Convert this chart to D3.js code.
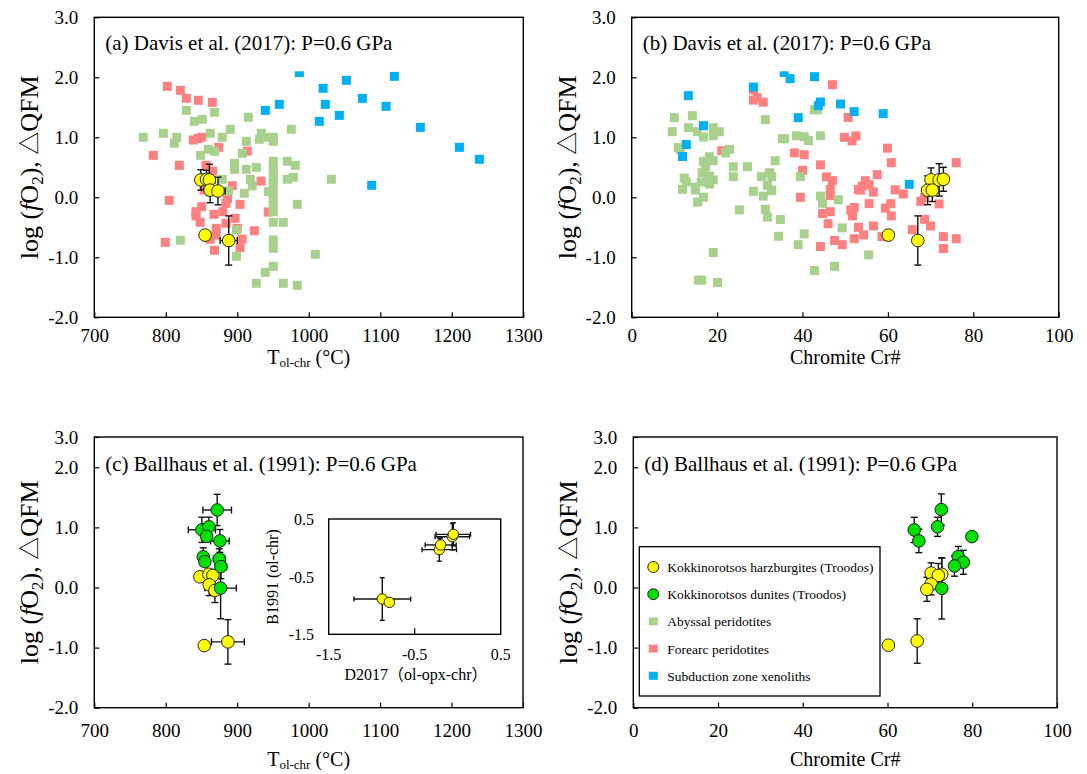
<!DOCTYPE html>
<html>
<head>
<meta charset="utf-8">
<script src="https://cdn.jsdelivr.net/npm/d3@7"></script>
<style>
  body { margin: 0; background: #fff; }
  text { font-family: "Liberation Serif", "Times New Roman", "Noto Sans CJK SC", serif; fill: #000; }
</style>
</head>
<body>
<svg id="fig" width="1087" height="774"></svg>
<script>
// ---------- axis ticks ----------
const tempTicks = [700, 800, 900, 1000, 1100, 1200, 1300];
const crTicks = [0, 20, 40, 60, 80, 100];
const fo2Ticks = [-2, -1, 0, 1, 2, 3];
const insetTicks = [-1.5, -0.5, 0.5];

// ---------- literature compilations, Davis et al. (2017) calibration ----------
// [T (°C), ΔQFM]
const abyssalT = [[768.5,1.0],[796.5,1.067],[815.2,1.0],[811.9,0.9],[828.7,1.45],[868.1,1.417],[915.4,1.333],[839.9,1.267],[851,1.3],[862.2,1.067],[879,1.0],[890.2,1.133],[912.6,0.933],[933.6,1.067],[930.8,0.967],[943.4,1.0],[950.3,1.0],[950.3,0.933],[975.5,1.133],[859.4,0.8],[868.1,0.767],[848.5,0.7],[907,0.733],[896.1,0.567],[896.1,0.467],[912.6,0.467],[926.6,0.5],[950.3,0.6],[950.3,0.5],[950.3,0.4],[950.3,0.3],[969.9,0.6],[981.1,0.533],[978.3,0.333],[969.9,0.3],[1031.5,0.3],[918.2,0.3],[879,0.3],[909.8,0.067],[921,0.19],[950.3,0.19],[943.4,0.093],[950.3,0.05],[950.3,-0.045],[950.3,-0.15],[950.3,-0.24],[950.3,-0.417],[964.3,-0.417],[983.9,-0.117],[887.7,0.105],[898.9,-0.545],[820.3,-0.717],[950.3,-0.71],[950.3,-0.85],[1009.1,-0.95],[898.9,-0.983],[950.3,-1.15],[939.2,-1.25],[926.6,-1.433],[964.3,-1.433],[983.9,-1.467]];
const forearcT = [[802.1,1.85],[820.3,1.783],[828.7,1.65],[845.5,1.617],[865,1.583],[838.5,0.955],[845,0.98],[850.2,1.0],[874,0.833],[914,0.77],[782.5,0.7],[818.9,0.533],[856.2,0.533],[865.6,0.438],[893,0.193],[933.2,0.27],[853.4,0.12],[804.9,-0.05],[850.2,-0.157],[842.2,-0.24],[842.2,-0.31],[848.1,-0.417],[867.4,-0.283],[879.6,-0.24],[884.2,-0.1],[886.3,-0.017],[903.8,-0.117],[896.8,-0.35],[884.2,-0.433],[870.6,-0.517],[900,-0.517],[923.8,-0.557],[870.2,-0.628],[861.9,-0.7],[906.6,-0.695],[903.8,-0.84],[799.3,-0.75],[868.1,-0.883],[943.4,-0.245]];
const subductionT = [[986.8,2.08],[1052.5,1.95],[1119.6,2.016],[1020,1.816],[1074.9,1.649],[1023.1,1.549],[1108,1.516],[958.8,1.549],[939.2,1.449],[1042.7,1.366],[1014.7,1.266],[1156,1.166],[1210.6,0.833],[1238.6,0.633],[1088,0.2]];

// [Cr#, ΔQFM]
const abyssalCr = [[9.98,1.327],[14.2,1.36],[9.5,1.093],[13.3,1.16],[15.4,1.093],[16.8,1.005],[19.1,1.16],[19.1,1.027],[20.5,1.093],[10.9,0.83],[11.4,0.79],[22.9,0.8],[22.0,0.74],[31.3,1.294],[35.3,0.977],[35.8,0.977],[38.6,1.027],[40.4,1.01],[41.4,0.944],[44.2,1.027],[42.8,1.46],[43.5,1.46],[33.6,0.61],[16.8,0.6],[18.2,0.677],[19.1,0.61],[17.3,0.51],[16.5,0.41],[18.2,0.355],[19.1,0.29],[23.8,0.51],[27.1,0.51],[23.8,0.344],[30.4,0.344],[32.8,0.344],[32.3,0.41],[12.3,0.32],[12.8,0.255],[11.9,0.133],[14.9,0.167],[16.3,0.255],[18.2,0.22],[31.8,0.2],[32.8,0.122],[28.5,0.1],[30.8,0.02],[39.5,0.344],[44.2,0.02],[48.4,-0.04],[14.9,0.12],[16.8,0.0],[15.4,-0.08],[32.7,0.11],[25.2,-0.21],[31.3,-0.2],[31.8,-0.33],[34.8,-0.37],[34.4,-0.65],[40.4,-0.61],[39.0,-0.79],[19.1,-0.92],[15.6,-1.38],[16.4,-1.38],[20.1,-1.42],[42.8,-1.22],[47.5,-1.15],[44.7,-0.1],[49.3,-0.51],[55.5,-0.96]];
const forearcCr = [[28.5,1.79],[29.4,1.66],[28.5,1.62],[30.8,1.585],[47.0,1.877],[50.7,1.33],[49.8,1.0],[52.5,1.023],[51.6,0.94],[38.1,0.74],[40.4,0.71],[21.1,0.776],[44.2,0.54],[40.0,0.45],[45.6,0.34],[47.0,0.277],[46.5,0.13],[39.5,0.0],[53.1,0.13],[46.5,0.027],[44.7,-0.27],[46.5,-0.24],[51.3,-0.21],[52.1,-0.17],[51.7,-0.31],[46.0,-0.44],[47.5,-0.72],[49.3,-0.79],[44.2,-0.82],[52.1,-0.69],[53.1,-0.5],[59.9,0.82],[60.8,0.577],[76.0,0.577],[57.5,0.377],[54.7,0.277],[54.0,0.188],[55.6,0.21],[53.6,0.12],[56.6,0.087],[61.7,0.125],[63.6,0.055],[55.6,-0.106],[60.7,-0.106],[59.4,-0.18],[60.8,-0.31],[67.7,-0.067],[68.6,0.0],[72.0,-0.11],[56.6,-0.478],[65.7,-0.54],[68.6,-0.367],[70.0,-0.478],[58.6,-0.655],[54.3,-0.627],[73.0,-0.655],[76.0,-0.69],[73.0,-0.855]];
const subductionCr = [[13.26,1.694],[16.8,1.194],[12.8,0.88],[11.9,0.68],[28.5,1.838],[35.7,2.08],[37.1,1.977],[42.8,2.01],[44.2,1.588],[43.7,1.527],[48.9,1.555],[39.0,1.327],[52.1,1.427],[58.9,1.394],[65.0,0.216]];

// ---------- Kokkinorotsos samples (Troodos) ----------
// [x, ΔQFM, x error, ΔQFM error]
const harzDavisT = [[849,0.29,6,0.17],[857,0.3,6,0.15],[861,0.29,8,0.26],[862,0.12,6,0.21],[873,0.105,10,0.23],[855,-0.63,0,0],[888,-0.72,12,0.41]];
const harzDavisCr = [[70.1,0.29,0,0.2],[72.0,0.29,0,0.27],[73.0,0.3,0,0.2],[69.3,0.117,0,0.24],[70.4,0.12,0,0.19],[60.1,-0.63,0,0],[67.0,-0.72,0,0.41]];
const harzBallT = [[847.8,0.178,0,0],[860.4,0.22,0,0],[866,0.2,0,0],[860.9,0.045,0,0.18],[868.8,-0.05,0,0.2],[853.9,-0.967,0,0],[887,-0.905,23,0.37]];
const harzBallCr = [[70.3,0.24,0,0.17],[72.8,0.22,0,0.27],[72.0,0.2,0,0.2],[70.3,0.057,0,0.18],[69.3,-0.03,0,0.2],[60.2,-0.96,0,0],[67.0,-0.89,0,0.37]];
const duniteBallT = [[872,1.29,20,0.26],[850.6,0.96,19,0.21],[860.4,1.01,0,0.16],[857.2,0.85,0,0],[875.8,0.775,13,0.19],[852.5,0.51,0,0.15],[854.8,0.43,0,0],[874.8,0.475,8,0.17],[877.2,0.347,8,0.2],[876.8,-0.01,22,0.51]];
const duniteBallCr = [[72.7,1.297,0,0.26],[66.3,0.958,0,0.21],[71.8,1.01,0,0.16],[67.4,0.775,0,0.195],[79.9,0.847,0,0],[76.7,0.513,0,0.17],[77.9,0.42,0,0.2],[75.8,0.358,0,0.17],[72.8,-0.014,0,0.51]];

// inset: D2017 (ol-opx-chr) vs B1991 (ol-chr), [D, B, D error, B error]
const insetHarz = [[-0.877,-0.888,0.33,0.37],[-0.795,-0.946,0,0],[-0.214,-0.032,0.2,0.2],[-0.198,0.05,0.18,0.12],[-0.063,0.193,0.2,0.23],[-0.051,0.234,0.2,0.2]];

const legendLabels = ["Kokkinorotsos harzburgites (Troodos)", "Kokkinorotsos dunites (Troodos)", "Abyssal peridotites", "Forearc peridotites", "Subduction zone xenoliths"];

// ---------- styles ----------
const SERIF = '"Liberation Serif", "Times New Roman", "Noto Sans CJK SC", serif';
const COL = { harz: "#ffff00", dunite: "#00e000", abyssal: "#a9d18e", forearc: "#ff8080", subduction: "#00b0f0" };
const SQ = 9;      // square marker side
const R = 6.3;     // circle marker radius

const svg = d3.select("#fig");
svg.append("rect").attr("width", 1087).attr("height", 774).attr("fill", "#fff");

function squares(g, data, x, y, color) {
  g.append("g").selectAll("rect").data(data).join("rect")
    .attr("x", d => x(d[0]) - SQ / 2).attr("y", d => y(d[1]) - SQ / 2)
    .attr("width", SQ).attr("height", SQ).attr("fill", color);
}

function errorBars(g, data, x, y, cap) {
  const e = g.append("g").attr("stroke", "#111").attr("stroke-width", 1.4).attr("fill", "none");
  data.forEach(d => {
    const cx = x(d[0]), cy = y(d[1]);
    if (d[2] > 0) {
      const x1 = x(d[0] - d[2]), x2 = x(d[0] + d[2]);
      e.append("line").attr("x1", x1).attr("x2", x2).attr("y1", cy).attr("y2", cy);
      e.append("line").attr("x1", x1).attr("x2", x1).attr("y1", cy - cap).attr("y2", cy + cap);
      e.append("line").attr("x1", x2).attr("x2", x2).attr("y1", cy - cap).attr("y2", cy + cap);
    }
    if (d[3] > 0) {
      const y1 = y(d[1] - d[3]), y2 = y(d[1] + d[3]);
      e.append("line").attr("x1", cx).attr("x2", cx).attr("y1", y1).attr("y2", y2);
      e.append("line").attr("x1", cx - cap).attr("x2", cx + cap).attr("y1", y1).attr("y2", y1);
      e.append("line").attr("x1", cx - cap).attr("x2", cx + cap).attr("y1", y2).attr("y2", y2);
    }
  });
}

function circles(g, data, x, y, color, r) {
  g.append("g").selectAll("circle").data(data).join("circle")
    .attr("cx", d => x(d[0])).attr("cy", d => y(d[1])).attr("r", r)
    .attr("fill", color).attr("stroke", "#222").attr("stroke-width", 1);
}

function yTitle(g, cx, cy) {
  const t = g.append("text").attr("transform", `translate(${cx},${cy}) rotate(-90)`)
    .attr("text-anchor", "middle").style("font-family", SERIF).attr("font-size", 26);
  t.append("tspan").text("log (");
  t.append("tspan").attr("font-style", "italic").text("f");
  t.append("tspan").text("O");
  t.append("tspan").attr("font-size", 17).attr("dy", 5).text("2");
  t.append("tspan").attr("dy", -5).text("), ");
  t.append("tspan").style("font-family", '"Noto Sans CJK SC", sans-serif').attr("font-size", 23).text("\u25B3");
  t.append("tspan").text("QFM");
}

function xTitle(g, kind, cx, baseline) {
  const t = g.append("text").attr("x", cx).attr("y", baseline).attr("text-anchor", "middle")
    .style("font-family", SERIF).attr("font-size", 20);
  if (kind === "T") {
    t.append("tspan").text("T");
    t.append("tspan").attr("font-size", 13).attr("dy", 3).text("ol-chr");
    t.append("tspan").attr("dy", -3).text(" (\u00B0C)");
  } else {
    t.text("Chromite Cr#");
  }
}

function panel(cfg) {
  const g = svg.append("g");
  const x = d3.scaleLinear().domain(cfg.xDomain).range([cfg.left, cfg.right]);
  const y = d3.scaleLinear().domain(cfg.yDomain).range(cfg.yRange);
  const top = y(3), bottom = y(-2);

  // literature data
  if (cfg.forearc) squares(g, cfg.forearc, x, y, COL.forearc);
  if (cfg.abyssal) squares(g, cfg.abyssal, x, y, COL.abyssal);
  if (cfg.subduction) squares(g, cfg.subduction, x, y, COL.subduction);

  // samples
  const pts = g.append("g");
  (cfg.circles || []).forEach(s => errorBars(pts, s.data, x, y, 3.5));
  (cfg.circles || []).forEach(s => circles(pts, s.data, x, y, s.color, R));

  // axes with inward ticks
  const xAxis = g.append("g").attr("transform", `translate(0,${bottom})`)
    .call(d3.axisBottom(x).tickValues(cfg.xTicks).tickSizeInner(-5).tickSizeOuter(0).tickPadding(cfg.xPad).tickFormat(d3.format("d")));
  const yAxis = g.append("g").attr("transform", `translate(${cfg.left},0)`)
    .call(d3.axisLeft(y).tickValues(fo2Ticks).tickSizeInner(-5).tickSizeOuter(0).tickPadding(16).tickFormat(d => d.toFixed(1)));
  [xAxis, yAxis].forEach(a => {
    a.select(".domain").remove();
    a.selectAll("line").attr("stroke", "#000").attr("stroke-width", 1.2);
    a.selectAll("text").style("font-family", SERIF).attr("font-size", 19).attr("fill", "#000");
  });

  // frame
  g.append("rect").attr("x", cfg.left).attr("y", top).attr("width", cfg.right - cfg.left).attr("height", bottom - top)
    .attr("fill", "none").attr("stroke", "#000").attr("stroke-width", 1.4);

  // panel title on a white box
  const tb = g.append("g");
  const box = tb.append("rect").attr("fill", "#fff");
  const tt = tb.append("text").attr("x", cfg.left + 11).attr("y", top + cfg.titleDy)
    .style("font-family", SERIF).attr("font-size", 21).text(cfg.title);
  if (cfg.titleBox) {
    const w = tt.node().getComputedTextLength();
    box.attr("x", cfg.left + 5).attr("y", top + 4).attr("width", w + 14).attr("height", cfg.titleBox - top - 4);
  }

  yTitle(g, cfg.left - 56, (top + bottom) / 2);
  xTitle(g, cfg.xKind, (cfg.left + cfg.right) / 2, bottom + cfg.xTitleDy);
  return { g, x, y };
}

// (a)
panel({ left: 94.3, right: 523.3, xDomain: [700, 1300], yDomain: [-2, 3], yRange: [317.3, 17.3], xTicks: tempTicks, xKind: "T",
  title: "(a) Davis et al. (2017): P=0.6 GPa", titleDy: 33, titleBox: 71.3, xPad: 11, xTitleDy: 47,
  abyssal: abyssalT, forearc: forearcT, subduction: subductionT,
  circles: [{ data: harzDavisT, color: COL.harz }] });

// (b)
panel({ left: 631.7, right: 1058.7, xDomain: [0, 100], yDomain: [-2, 3], yRange: [317.3, 17.3], xTicks: crTicks, xKind: "Cr",
  title: "(b) Davis et al. (2017): P=0.6 GPa", titleDy: 33, titleBox: 71.3, xPad: 11, xTitleDy: 47,
  abyssal: abyssalCr, forearc: forearcCr, subduction: subductionCr,
  circles: [{ data: harzDavisCr, color: COL.harz }] });

// (c) – upper part of the fO2 axis is compressed between 2 and 3
panel({ left: 94.3, right: 523, xDomain: [700, 1300], yDomain: [-2, 2, 3], yRange: [707.7, 467.3, 437], xTicks: tempTicks, xKind: "T",
  title: "(c) Ballhaus et al. (1991): P=0.6 GPa", titleDy: 34, xPad: 16, xTitleDy: 58,
  circles: [{ data: harzBallT, color: COL.harz }, { data: duniteBallT, color: COL.dunite }] });

// (d)
panel({ left: 633.3, right: 1057, xDomain: [0, 100], yDomain: [-2, 2, 3], yRange: [707.7, 467.3, 437], xTicks: crTicks, xKind: "Cr",
  title: "(d) Ballhaus et al. (1991): P=0.6 GPa", titleDy: 34, xPad: 16, xTitleDy: 58,
  circles: [{ data: harzBallCr, color: COL.harz }, { data: duniteBallCr, color: COL.dunite }] });

// ---------- inset in (c): comparison of the two oxybarometers ----------
(function inset() {
  const g = svg.append("g");
  const ix = d3.scaleLinear().domain([-1.5, 0.5]).range([328.7, 500.7]);
  const iy = d3.scaleLinear().domain([-1.5, 0.5]).range([634.3, 519]);
  g.append("rect").attr("x", 328.7).attr("y", 519).attr("width", 172).attr("height", 115.3)
    .attr("fill", "#fff").attr("stroke", "#000").attr("stroke-width", 1.4);
  errorBars(g, insetHarz, ix, iy, 2.5);
  circles(g, insetHarz, ix, iy, COL.harz, 5.2);
  g.selectAll("line.itick").data([-0.5]).join("line").attr("class", "itick")
    .attr("x1", d => ix(d)).attr("x2", d => ix(d)).attr("y1", 634.3).attr("y2", 628.3).attr("stroke", "#000").attr("stroke-width", 1.2);
  g.selectAll("text.ixl").data(insetTicks).join("text").attr("class", "ixl")
    .attr("x", d => ix(d)).attr("y", 660).attr("text-anchor", "middle").attr("font-size", 16).text(d => d.toFixed(1));
  g.selectAll("text.iyl").data(insetTicks).join("text").attr("class", "iyl")
    .attr("x", 314).attr("y", d => iy(d) + 6).attr("text-anchor", "end").attr("font-size", 16).text(d => d.toFixed(1));
  g.append("text").attr("transform", "translate(278,577) rotate(-90)").attr("text-anchor", "middle")
    .attr("font-size", 16).text("B1991 (ol-chr)");
  g.append("text").attr("x", 416).attr("y", 680).attr("text-anchor", "middle").attr("font-size", 16)
    .text("D2017\uFF08ol-opx-chr\uFF09");
})();

// ---------- legend in (d) ----------
(function legend() {
  const g = svg.append("g");
  g.append("rect").attr("x", 639.3).attr("y", 546.7).attr("width", 240.7).attr("height", 149.3)
    .attr("fill", "#fff").attr("stroke", "#000").attr("stroke-width", 1.3);
  const kinds = ["harz", "dunite", "abyssal", "forearc", "subduction"];
  const rows = g.selectAll("g.item").data(legendLabels).join("g").attr("class", "item")
    .attr("transform", (d, i) => `translate(653.3,${567 + i * 27.2})`);
  rows.each(function (d, i) {
    const r = d3.select(this);
    if (i < 2) r.append("circle").attr("r", 5.5).attr("fill", COL[kinds[i]]).attr("stroke", "#222").attr("stroke-width", 1);
    else r.append("rect").attr("x", -4.5).attr("y", -4).attr("width", 9).attr("height", 8).attr("fill", COL[kinds[i]]);
    r.append("text").attr("x", 14).attr("y", 5).attr("font-size", 13.5).text(d);
  });
})();
</script>
</body>
</html>
